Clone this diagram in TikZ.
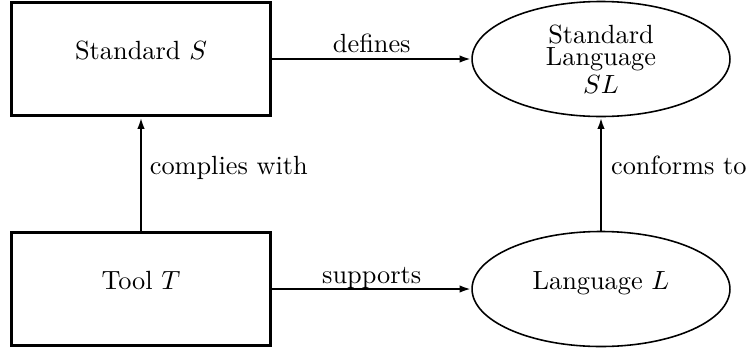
\documentclass[tikz,border=0pt]{standalone}
\usetikzlibrary{arrows.meta,shapes.geometric}
\begin{document}
\begin{tikzpicture}[x=0.38pt,y=-0.38pt,
  box/.style={draw, line width=1.14pt, minimum width=98.6pt, minimum height=43.1pt,
    inner sep=0pt, text height=7pt, text depth=7pt},
  oval/.style={draw, ellipse, line width=0.6pt, minimum width=98pt, minimum height=43.7pt,
    inner sep=0pt},
  link/.style={line width=1.1pt, -{Latex[length=4.4pt,width=2.8pt]}},
  lab/.style={inner sep=0pt}]
\useasboundingbox (0,0) rectangle (748,354);

% the four entities
\node[box] (S) at (141,59) {Standard $S$};
\node[box] (T) at (141,289) {Tool $T$};
\node[oval, align=center] (SL) at (601,59) {Standard\\[-3.6pt]Language\\[-1.4pt]$SL$};
\node[oval, text height=7pt, text depth=7pt] (L) at (601,289) {Language $L$};

% relations between them
\draw[link] (S) -- node[lab, anchor=base, yshift=2.4pt] (defl) {defines} (SL);
\draw[link] (T) -- node[lab, anchor=base, yshift=2.2pt] (supl) {supports} (L);
\draw[link] (T) -- node[lab, anchor=base west, xshift=2.8pt] (coml) {complies with} (S);
\draw[link] (L) -- node[lab, anchor=base west, xshift=3.3pt] (conl) {conforms to} (SL);
\end{tikzpicture}
\end{document}
